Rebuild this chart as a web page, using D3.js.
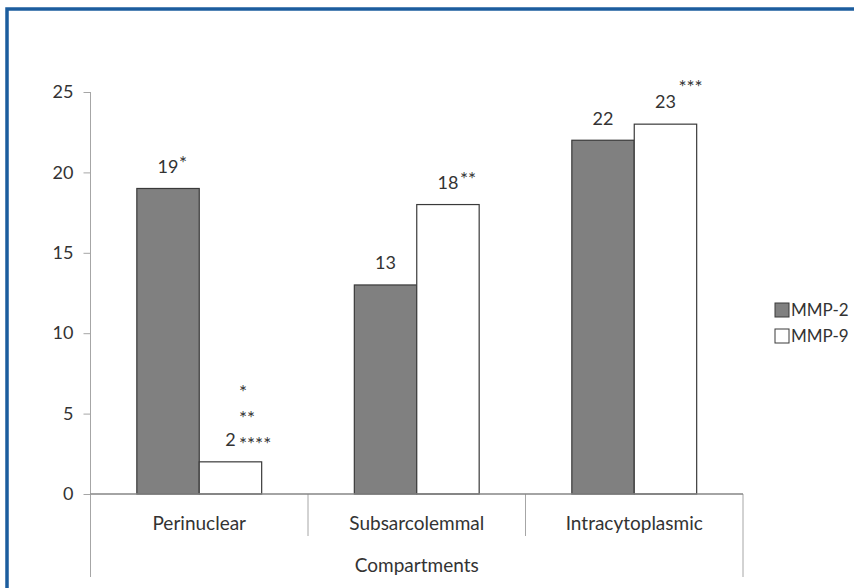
<!DOCTYPE html>
<html>
<head>
<meta charset="utf-8">
<script src="https://cdn.jsdelivr.net/npm/d3@7"></script>
<style>
  body { margin: 0; background: #fff; }
  text { font-family: Lato, "Open Sans", sans-serif; fill: #333; }
</style>
</head>
<body>
<div id="chart"></div>
<script>
// data
var categories = ["Perinuclear", "Subsarcolemmal", "Intracytoplasmic"];
var series = ["MMP-2", "MMP-9"];
var mmp2 = [19, 13, 22];
var mmp9 = [2, 18, 23];
// significance stars next to each value label (lines from top to bottom)
var mmp2Stars = [["*"], [], []];
var mmp9Stars = [["*", "**", "****"], ["**"], ["***"]];
var yTicks = [0, 5, 10, 15, 20, 25];
var xTitle = "Compartments";

var W = 854, H = 588;
var plotLeft = 90.5, plotRight = 743, plotTop = 92, plotBottom = 494;

var svg = d3.select("#chart")
  .append("svg")
    .attr("width", W)
    .attr("height", H);

// blue frame
svg.append("rect")
  .attr("x", 7).attr("y", 9)
  .attr("width", W + 20).attr("height", H + 20)
  .attr("fill", "none")
  .attr("stroke", "#1c5d9e")
  .attr("stroke-width", 3.5);

var x = d3.scaleBand().domain(categories).range([plotLeft, plotRight]).padding(0);
var bw = x.bandwidth();
var xSub = d3.scaleBand().domain(series).range([bw * 0.213, bw * 0.787]).padding(0);
var y = d3.scaleLinear().domain([0, 25]).range([plotBottom, plotTop]);

var color = d3.scaleOrdinal().domain(series).range(["#808080", "#ffffff"]);

// y axis
var yAxis = svg.append("g")
  .attr("transform", "translate(" + plotLeft + ",0)")
  .call(d3.axisLeft(y).tickValues(yTicks).tickSize(7).tickPadding(10));
yAxis.select(".domain").remove();
yAxis.selectAll(".tick line").attr("stroke", "#a6a6a6");
yAxis.selectAll(".tick text")
  .style("font-size", "18px")
  .style("font-family", "Lato, sans-serif")
  .attr("fill", "#333");

// y axis line extends down past the category labels
svg.append("line")
  .attr("x1", plotLeft).attr("x2", plotLeft)
  .attr("y1", plotTop).attr("y2", 577)
  .attr("stroke", "#a6a6a6");

// category separators below the axis
var seps = categories.map(function(c) { return x(c); }).slice(1);
svg.selectAll(".sep")
  .data(seps)
  .enter().append("line")
    .attr("class", "sep")
    .attr("x1", function(d) { return d; }).attr("x2", function(d) { return d; })
    .attr("y1", plotBottom).attr("y2", 536)
    .attr("stroke", "#a6a6a6");
svg.append("line")
  .attr("x1", plotRight).attr("x2", plotRight)
  .attr("y1", plotBottom).attr("y2", 577)
  .attr("stroke", "#a6a6a6");

// bars
var rows = categories.map(function(c, i) {
  return {cat: c, vals: [
    {cat: c, key: "MMP-2", value: mmp2[i], stars: mmp2Stars[i]},
    {cat: c, key: "MMP-9", value: mmp9[i], stars: mmp9Stars[i]}
  ]};
});

var groups = svg.append("g")
  .selectAll("g")
  .data(rows)
  .enter().append("g")
    .attr("transform", function(d) { return "translate(" + x(d.cat) + ",0)"; });

groups.selectAll("rect")
  .data(function(d) { return d.vals; })
  .enter().append("rect")
    .attr("x", function(d) { return xSub(d.key); })
    .attr("y", function(d) { return y(d.value); })
    .attr("width", xSub.bandwidth())
    .attr("height", function(d) { return y(0) - y(d.value); })
    .attr("fill", function(d) { return color(d.key); })
    .attr("stroke", "#3a3a3a")
    .attr("stroke-width", 1.2);

// x axis line
svg.append("line")
  .attr("x1", plotLeft).attr("x2", plotRight)
  .attr("y1", plotBottom).attr("y2", plotBottom)
  .attr("stroke", "#868686")
  .attr("stroke-width", 1.3);

// value labels
var labels = groups.selectAll(".lab")
  .data(function(d) { return d.vals; })
  .enter().append("g")
    .attr("class", "lab")
    .attr("transform", function(d) {
      return "translate(" + (xSub(d.key) + xSub.bandwidth() / 2) + "," + (y(d.value) - 22) + ")";
    });

labels.append("text")
  .attr("text-anchor", "middle")
  .attr("dy", "0.35em")
  .style("font-size", "18px")
  .text(function(d) { return d.value; });

// where the bottom line of stars sits relative to the label centre
var starOffset = {
  "Perinuclear|MMP-2": [11, -3],
  "Perinuclear|MMP-9": [8.5, 4.5],
  "Subsarcolemmal|MMP-9": [12, -3],
  "Intracytoplasmic|MMP-9": [13, -15]
};

labels.each(function(d) {
  var g = d3.select(this);
  var n = d.stars.length;
  if (!n) return;
  var off = starOffset[d.cat + "|" + d.key];
  d.stars.forEach(function(s, j) {
    var fromBottom = n - 1 - j;
    g.append("text")
      .attr("x", off[0])
      .attr("y", off[1] - fromBottom * 26)
      .attr("dy", "0.35em")
      .style("font-size", "19px")
      .attr("fill", "#444")
      .text(s);
  });
});

// category labels
svg.selectAll(".cat")
  .data(categories)
  .enter().append("text")
    .attr("class", "cat")
    .attr("x", function(d) { return x(d) + bw / 2; })
    .attr("y", 523)
    .attr("dy", "0.35em")
    .attr("text-anchor", "middle")
    .style("font-size", "19px")
    .text(function(d) { return d; });

svg.append("text")
  .attr("x", (plotLeft + plotRight) / 2)
  .attr("y", 565)
  .attr("dy", "0.35em")
  .attr("text-anchor", "middle")
  .style("font-size", "19px")
  .text(xTitle);

// legend
var legend = svg.append("g")
  .selectAll("g")
  .data(series)
  .enter().append("g")
    .attr("transform", function(d, i) { return "translate(775," + (303 + i * 26) + ")"; });
legend.append("rect")
  .attr("width", 14).attr("height", 14)
  .attr("fill", function(d) { return color(d); })
  .attr("stroke", "#3a3a3a");
legend.append("text")
  .attr("x", 16)
  .attr("y", 7.5)
  .attr("dy", "0.35em")
  .style("font-size", "17px")
  .text(function(d) { return d; });
</script>
</body>
</html>
